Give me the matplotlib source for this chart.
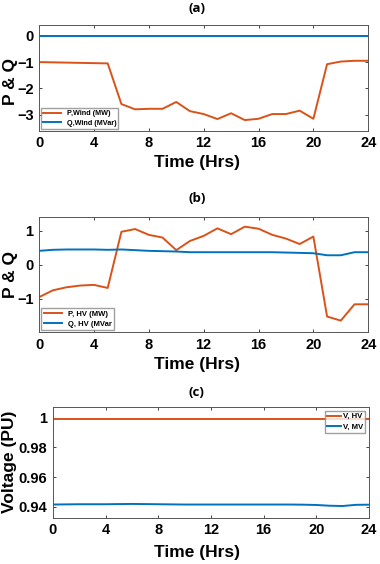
import matplotlib
matplotlib.use('Agg')
import matplotlib.pyplot as plt
import numpy as np

# hours
hours = np.arange(0, 25)

# (a) wind
p_wind = [-1.0, -1.01, -1.02, -1.03, -1.04, -1.05, -2.6, -2.8, -2.78, -2.78, -2.52,
          -2.87, -2.98, -3.17, -2.95, -3.21, -3.16, -2.98, -2.98, -2.85, -3.16,
          -1.08, -0.98, -0.95, -0.95]
q_wind = [0.0] * 25

# (b) HV
p_hv = [-0.95, -0.75, -0.66, -0.61, -0.59, -0.68, 0.97, 1.05, 0.88, 0.8, 0.43,
        0.7, 0.85, 1.07, 0.9, 1.12, 1.06, 0.88, 0.77, 0.61, 0.83,
        -1.52, -1.64, -1.16, -1.16]
q_hv = [0.41, 0.44, 0.45, 0.45, 0.45, 0.44, 0.45, 0.43, 0.41, 0.4, 0.39,
        0.37, 0.37, 0.37, 0.37, 0.37, 0.37, 0.37, 0.36, 0.35, 0.34,
        0.28, 0.28, 0.37, 0.37]

# (c) voltages
v_hv = [0.9989] * 25
v_mv = [0.9415, 0.9416, 0.9417, 0.9417, 0.9417, 0.9418, 0.9419, 0.9418, 0.9417, 0.9416, 0.9415,
        0.9415, 0.9415, 0.9415, 0.9415, 0.9415, 0.9415, 0.9415, 0.9415, 0.9414, 0.9412,
        0.9407, 0.9405, 0.9413, 0.9414]

xticks = [0, 4, 8, 12, 16, 20, 24]
orange = '#D95319'
blue = '#0072BD'

plt.rcParams['font.family'] = ['Liberation Sans', 'DejaVu Sans']
plt.rcParams['font.weight'] = 'bold'

fig = plt.figure(figsize=(3.8, 5.64), dpi=100)


def style(ax):
    ax.set_xlim(0, 24)
    ax.set_xticks(xticks)
    ax.tick_params(direction='in', top=True, right=True, labelsize=10.5,
                   length=2.5, width=0.6, colors='#262626', pad=4)
    for lab in ax.get_xticklabels() + ax.get_yticklabels():
        lab.set_fontweight('bold')
        lab.set_color('black')
    for s in ax.spines.values():
        s.set_color('#555555')
        s.set_linewidth(0.7)


# panel a
ax1 = fig.add_axes([0.103, 0.768, 0.866, 0.188])
ax1.plot(hours, p_wind, color=orange, lw=1.4, label='P,Wind (MW)')
ax1.plot(hours, q_wind, color=blue, lw=1.4, label='Q,Wind (MVar)')
ax1.set_ylim(-3.62, 0.42)
ax1.set_yticks([0, -1, -2, -3])
style(ax1)
ax1.legend(loc='lower left', frameon=True, fancybox=False,
           edgecolor='#888888', borderpad=0.3, handlelength=2.4,
           labelspacing=0.3, borderaxespad=0.3, prop={'size': 5.2, 'weight': 'bold'})

# panel b
ax2 = fig.add_axes([0.103, 0.411, 0.866, 0.204])
ax2.plot(hours, p_hv, color=orange, lw=1.4, label='P, HV (MW)')
ax2.plot(hours, q_hv, color=blue, lw=1.4, label='Q, HV (MVar')
ax2.set_ylim(-1.98, 1.4)
ax2.set_yticks([1, 0, -1])
style(ax2)
ax2.legend(loc='lower left', frameon=True, fancybox=False,
           edgecolor='#888888', borderpad=0.3, handlelength=2.4,
           labelspacing=0.3, borderaxespad=0.3, prop={'size': 5.5, 'weight': 'bold'})

# panel c
ax3 = fig.add_axes([0.139, 0.082, 0.832, 0.197])
ax3.plot(hours, v_hv, color=orange, lw=1.4, label='V, HV')
ax3.plot(hours, v_mv, color=blue, lw=1.4, label='V, MV')
ax3.set_ylim(0.9326, 1.0074)
ax3.set_yticks([1.0, 0.98, 0.96, 0.94])
ax3.set_yticklabels(['1', '0.98', '0.96', '0.94'])
style(ax3)
ax3.legend(loc='upper right', frameon=True, fancybox=False,
           edgecolor='#888888', borderpad=0.3, handlelength=1.8, handletextpad=0.2,
           labelspacing=0.4, borderaxespad=0.5, prop={'size': 5.6, 'weight': 'bold'})

# titles and labels
for y, t in [(9, '(a)'), (199, '(b)'), (393, '(c)')]:
    fig.text(0.518, 1 - y / 564, t, ha='center', va='center', fontsize=9.5,
             fontweight='bold', family=['Open Sans', 'DejaVu Sans'])
for y in [163, 365, 552]:
    fig.text(0.518, 1 - y / 564, 'Time (Hrs)', ha='center', va='center',
             fontsize=12.5, fontweight='bold')
for y, t in [(82, 'P & Q'), (274, 'P & Q'), (462, 'Voltage (PU)')]:
    fig.text(10 / 380, 1 - y / 564, t, ha='center', va='center', rotation=90,
             fontsize=12.5, fontweight='bold')

fig.savefig('out.png', dpi=100)
